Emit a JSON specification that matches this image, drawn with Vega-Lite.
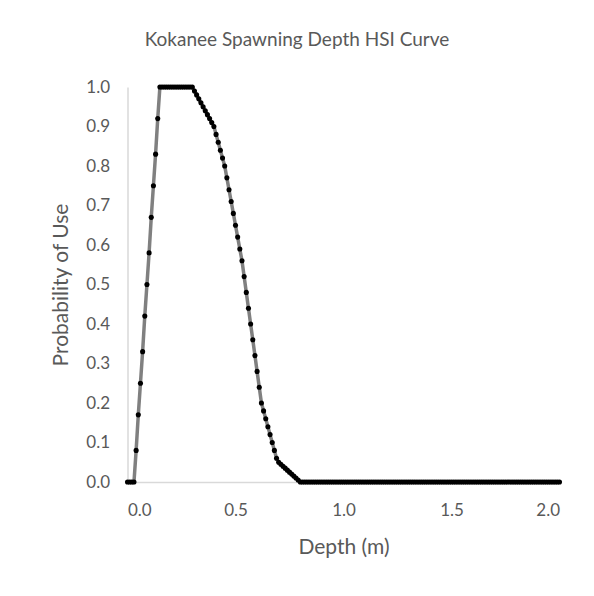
{
  "$schema": "https://vega.github.io/schema/vega-lite/v6.json",
  "width": 432,
  "height": 395,
  "autosize": {"type": "none"},
  "padding": {"left": 127.5, "top": 87, "right": 34.5, "bottom": 114},
  "background": "white",
  "title": {"text": "Kokanee Spawning Depth HSI Curve", "font": "Lato", "fontSize": 19, "fontWeight": "normal", "color": "#595959", "anchor": "middle", "dx": -46.5, "offset": 28},
  "config": {
    "view": {"stroke": null},
    "axis": {"grid": false, "ticks": false, "domainColor": "#d9d9d9", "domainWidth": 1.5, "labelFont": "Lato", "labelFontSize": 17, "labelColor": "#595959", "titleFont": "Lato", "titleFontSize": 21, "titleFontWeight": "normal", "titleColor": "#595959"}
  },
  "data": {"values": [
    {"d":0.00,"p":0},{"d":0.01,"p":0},{"d":0.02,"p":0},{"d":0.03,"p":0},{"d":0.04,"p":0.08},{"d":0.05,"p":0.17},{"d":0.06,"p":0.25},{"d":0.07,"p":0.33},{"d":0.08,"p":0.42},{"d":0.09,"p":0.5},
    {"d":0.10,"p":0.58},{"d":0.11,"p":0.67},{"d":0.12,"p":0.75},{"d":0.13,"p":0.83},{"d":0.14,"p":0.92},{"d":0.15,"p":1},{"d":0.16,"p":1},{"d":0.17,"p":1},{"d":0.18,"p":1},{"d":0.19,"p":1},
    {"d":0.20,"p":1},{"d":0.21,"p":1},{"d":0.22,"p":1},{"d":0.23,"p":1},{"d":0.24,"p":1},{"d":0.25,"p":1},{"d":0.26,"p":1},{"d":0.27,"p":1},{"d":0.28,"p":1},{"d":0.29,"p":1},
    {"d":0.30,"p":1},{"d":0.31,"p":0.99},{"d":0.32,"p":0.98},{"d":0.33,"p":0.97},{"d":0.34,"p":0.96},{"d":0.35,"p":0.95},{"d":0.36,"p":0.94},{"d":0.37,"p":0.93},{"d":0.38,"p":0.92},{"d":0.39,"p":0.91},
    {"d":0.40,"p":0.9},{"d":0.41,"p":0.88},{"d":0.42,"p":0.86},{"d":0.43,"p":0.84},{"d":0.44,"p":0.82},{"d":0.45,"p":0.8},{"d":0.46,"p":0.77},{"d":0.47,"p":0.74},{"d":0.48,"p":0.71},{"d":0.49,"p":0.68},
    {"d":0.50,"p":0.65},{"d":0.51,"p":0.62},{"d":0.52,"p":0.59},{"d":0.53,"p":0.56},{"d":0.54,"p":0.52},{"d":0.55,"p":0.48},{"d":0.56,"p":0.44},{"d":0.57,"p":0.4},{"d":0.58,"p":0.36},{"d":0.59,"p":0.32},
    {"d":0.60,"p":0.28},{"d":0.61,"p":0.24},{"d":0.62,"p":0.2},{"d":0.63,"p":0.18},{"d":0.64,"p":0.16},{"d":0.65,"p":0.14},{"d":0.66,"p":0.12},{"d":0.67,"p":0.1},{"d":0.68,"p":0.08},{"d":0.69,"p":0.06},
    {"d":0.70,"p":0.05},{"d":0.71,"p":0.045},{"d":0.72,"p":0.04},{"d":0.73,"p":0.035},{"d":0.74,"p":0.03},{"d":0.75,"p":0.025},{"d":0.76,"p":0.02},{"d":0.77,"p":0.015},{"d":0.78,"p":0.01},{"d":0.79,"p":0.005},
    {"d":0.80,"p":0},{"d":0.81,"p":0},{"d":0.82,"p":0},{"d":0.83,"p":0},{"d":0.84,"p":0},{"d":0.85,"p":0},{"d":0.86,"p":0},{"d":0.87,"p":0},{"d":0.88,"p":0},{"d":0.89,"p":0},
    {"d":0.90,"p":0},{"d":0.91,"p":0},{"d":0.92,"p":0},{"d":0.93,"p":0},{"d":0.94,"p":0},{"d":0.95,"p":0},{"d":0.96,"p":0},{"d":0.97,"p":0},{"d":0.98,"p":0},{"d":0.99,"p":0},
    {"d":1.00,"p":0},{"d":1.01,"p":0},{"d":1.02,"p":0},{"d":1.03,"p":0},{"d":1.04,"p":0},{"d":1.05,"p":0},{"d":1.06,"p":0},{"d":1.07,"p":0},{"d":1.08,"p":0},{"d":1.09,"p":0},
    {"d":1.10,"p":0},{"d":1.11,"p":0},{"d":1.12,"p":0},{"d":1.13,"p":0},{"d":1.14,"p":0},{"d":1.15,"p":0},{"d":1.16,"p":0},{"d":1.17,"p":0},{"d":1.18,"p":0},{"d":1.19,"p":0},
    {"d":1.20,"p":0},{"d":1.21,"p":0},{"d":1.22,"p":0},{"d":1.23,"p":0},{"d":1.24,"p":0},{"d":1.25,"p":0},{"d":1.26,"p":0},{"d":1.27,"p":0},{"d":1.28,"p":0},{"d":1.29,"p":0},
    {"d":1.30,"p":0},{"d":1.31,"p":0},{"d":1.32,"p":0},{"d":1.33,"p":0},{"d":1.34,"p":0},{"d":1.35,"p":0},{"d":1.36,"p":0},{"d":1.37,"p":0},{"d":1.38,"p":0},{"d":1.39,"p":0},
    {"d":1.40,"p":0},{"d":1.41,"p":0},{"d":1.42,"p":0},{"d":1.43,"p":0},{"d":1.44,"p":0},{"d":1.45,"p":0},{"d":1.46,"p":0},{"d":1.47,"p":0},{"d":1.48,"p":0},{"d":1.49,"p":0},
    {"d":1.50,"p":0},{"d":1.51,"p":0},{"d":1.52,"p":0},{"d":1.53,"p":0},{"d":1.54,"p":0},{"d":1.55,"p":0},{"d":1.56,"p":0},{"d":1.57,"p":0},{"d":1.58,"p":0},{"d":1.59,"p":0},
    {"d":1.60,"p":0},{"d":1.61,"p":0},{"d":1.62,"p":0},{"d":1.63,"p":0},{"d":1.64,"p":0},{"d":1.65,"p":0},{"d":1.66,"p":0},{"d":1.67,"p":0},{"d":1.68,"p":0},{"d":1.69,"p":0},
    {"d":1.70,"p":0},{"d":1.71,"p":0},{"d":1.72,"p":0},{"d":1.73,"p":0},{"d":1.74,"p":0},{"d":1.75,"p":0},{"d":1.76,"p":0},{"d":1.77,"p":0},{"d":1.78,"p":0},{"d":1.79,"p":0},
    {"d":1.80,"p":0},{"d":1.81,"p":0},{"d":1.82,"p":0},{"d":1.83,"p":0},{"d":1.84,"p":0},{"d":1.85,"p":0},{"d":1.86,"p":0},{"d":1.87,"p":0},{"d":1.88,"p":0},{"d":1.89,"p":0},
    {"d":1.90,"p":0},{"d":1.91,"p":0},{"d":1.92,"p":0},{"d":1.93,"p":0},{"d":1.94,"p":0},{"d":1.95,"p":0},{"d":1.96,"p":0},{"d":1.97,"p":0},{"d":1.98,"p":0},{"d":1.99,"p":0},
    {"d":2.00,"p":0}
  ]},
  "encoding": {
    "x": {"field": "d", "type": "quantitative", "title": "Depth (m)", "scale": {"domain": [0, 2], "nice": false, "zero": false}, "axis": {"values": [0, 0.5, 1, 1.5, 2], "format": ".1f", "labelPadding": 20, "titlePadding": 18}},
    "y": {"field": "p", "type": "quantitative", "title": "Probability of Use", "scale": {"domain": [0, 1], "nice": false}, "axis": {"values": [0, 0.1, 0.2, 0.3, 0.4, 0.5, 0.6, 0.7, 0.8, 0.9, 1], "format": ".1f", "labelPadding": 18, "titlePadding": 14}}
  },
  "layer": [
    {"mark": {"type": "line", "color": "#808080", "strokeWidth": 3.5}},
    {"mark": {"type": "point", "filled": true, "color": "#000000", "opacity": 1, "size": 26, "shape": "circle"}}
  ]
}
